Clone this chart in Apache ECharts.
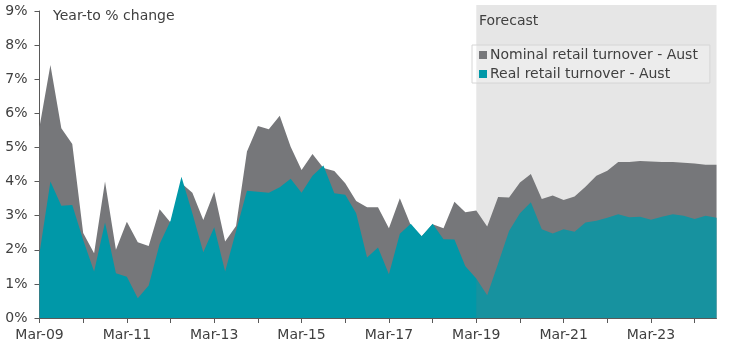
<!DOCTYPE html>
<html>
<head>
<meta charset="utf-8">
<script src="https://cdn.jsdelivr.net/npm/echarts@6/dist/echarts.min.js"></script>
<style>html,body{margin:0;padding:0;background:#fff;}#c{width:751px;height:364px;}</style>
</head>
<body>
<div id="c"></div>
<script>
const categories = [
 'Mar-09','Jun-09','Sep-09','Dec-09','Mar-10','Jun-10','Sep-10','Dec-10',
 'Mar-11','Jun-11','Sep-11','Dec-11','Mar-12','Jun-12','Sep-12','Dec-12',
 'Mar-13','Jun-13','Sep-13','Dec-13','Mar-14','Jun-14','Sep-14','Dec-14',
 'Mar-15','Jun-15','Sep-15','Dec-15','Mar-16','Jun-16','Sep-16','Dec-16',
 'Mar-17','Jun-17','Sep-17','Dec-17','Mar-18','Jun-18','Sep-18','Dec-18',
 'Mar-19','Jun-19','Sep-19','Dec-19','Mar-20','Jun-20','Sep-20','Dec-20',
 'Mar-21','Jun-21','Sep-21','Dec-21','Mar-22','Jun-22','Sep-22','Dec-22',
 'Mar-23','Jun-23','Sep-23','Dec-23','Mar-24','Jun-24','Sep-24'
];
const nominal = [
 5.6, 7.42, 5.56, 5.1, 2.49, 1.9, 4.0, 2.0,
 2.82, 2.22, 2.11, 3.19, 2.8, 3.95, 3.67, 2.87,
 3.7, 2.24, 2.7, 4.88, 5.63, 5.53, 5.93, 5.02,
 4.34, 4.81, 4.4, 4.31, 3.95, 3.43, 3.25, 3.25,
 2.63, 3.51, 2.72, 2.4, 2.75, 2.63, 3.41, 3.1,
 3.15, 2.68, 3.55, 3.53, 3.97, 4.22, 3.49, 3.59,
 3.46, 3.56, 3.85, 4.17, 4.32, 4.57, 4.57, 4.6,
 4.59, 4.57, 4.57, 4.55, 4.53, 4.49, 4.49
];
const real = [
 1.9, 4.0, 3.29, 3.31, 2.29, 1.36, 2.8, 1.31,
 1.21, 0.58, 0.95, 2.17, 2.85, 4.14, 3.07, 1.93,
 2.66, 1.36, 2.55, 3.73, 3.7, 3.67, 3.83, 4.08,
 3.67, 4.17, 4.47, 3.66, 3.61, 3.07, 1.77, 2.07,
 1.28, 2.47, 2.76, 2.4, 2.76, 2.31, 2.3, 1.52,
 1.16, 0.67, 1.6, 2.55, 3.07, 3.39, 2.6, 2.48,
 2.6, 2.53, 2.8, 2.85, 2.94, 3.04, 2.95, 2.97,
 2.88, 2.97, 3.04, 3.0, 2.9, 3.0, 2.94
];
const seriesNames = ['Nominal retail turnover - Aust', 'Real retail turnover - Aust'];
const forecastStart = 'Mar-19';
const yTicks = [0, 9, 1];

const font = 'DejaVu Sans, Verdana, sans-serif';
const txt = '#404040';
const chart = echarts.init(document.getElementById('c'), null, {renderer: 'canvas'});
chart.setOption({
  animation: false,
  title: [
    {text: 'Year-to % change', left: 53, top: 9, padding: 0,
     textStyle: {fontFamily: font, fontSize: 14, fontWeight: 'normal', color: txt}},
    {text: 'Forecast', left: 479, top: 14, padding: 0,
     textStyle: {fontFamily: font, fontSize: 14, fontWeight: 'normal', color: txt}}
  ],
  legend: {
    orient: 'vertical', left: 472, top: 45,
    padding: [3, 12, 2, 7], itemGap: 5,
    itemWidth: 8, itemHeight: 8, icon: 'rect',
    backgroundColor: 'rgba(255,255,255,0.25)', borderColor: '#d6d6d6', borderWidth: 1,
    textStyle: {fontFamily: font, fontSize: 14, color: txt, padding: [0, 0, 0, -2]},
    data: seriesNames
  },
  grid: {left: 39.5, right: 34.5, top: 11, bottom: 46, containLabel: false},
  xAxis: {
    type: 'category', data: categories, boundaryGap: false,
    axisLine: {lineStyle: {color: '#595959', width: 1}},
    axisTick: {interval: 3, length: 5, lineStyle: {color: '#595959'}},
    axisLabel: {interval: 7, margin: 10, fontFamily: font, fontSize: 14, color: txt},
    splitLine: {show: false}
  },
  yAxis: {
    type: 'value', min: yTicks[0], max: yTicks[1], interval: yTicks[2],
    axisLine: {show: true, lineStyle: {color: '#595959', width: 1}},
    axisTick: {show: true, length: 5, lineStyle: {color: '#595959'}},
    axisLabel: {margin: 12, fontFamily: font, fontSize: 14, color: txt, formatter: v => v + '%'},
    splitLine: {show: false}
  },
  series: [
    {
      name: seriesNames[0], type: 'line', data: nominal,
      showSymbol: false, symbol: 'none', lineStyle: {width: 0},
      itemStyle: {color: '#76777a'},
      areaStyle: {color: '#76777a', opacity: 1}, z: 2
    },
    {
      name: seriesNames[1], type: 'line', data: real,
      showSymbol: false, symbol: 'none', lineStyle: {width: 0},
      itemStyle: {color: '#0098a8'},
      areaStyle: {color: '#0098a8', opacity: 1}, z: 2,
      markArea: {
        silent: true, z: 3,
        itemStyle: {color: 'rgba(122,122,124,0.19)'},
        data: [[{xAxis: forecastStart, y: 5}, {xAxis: categories[categories.length - 1], yAxis: 0}]]
      }
    }
  ]
});
</script>
</body>
</html>
